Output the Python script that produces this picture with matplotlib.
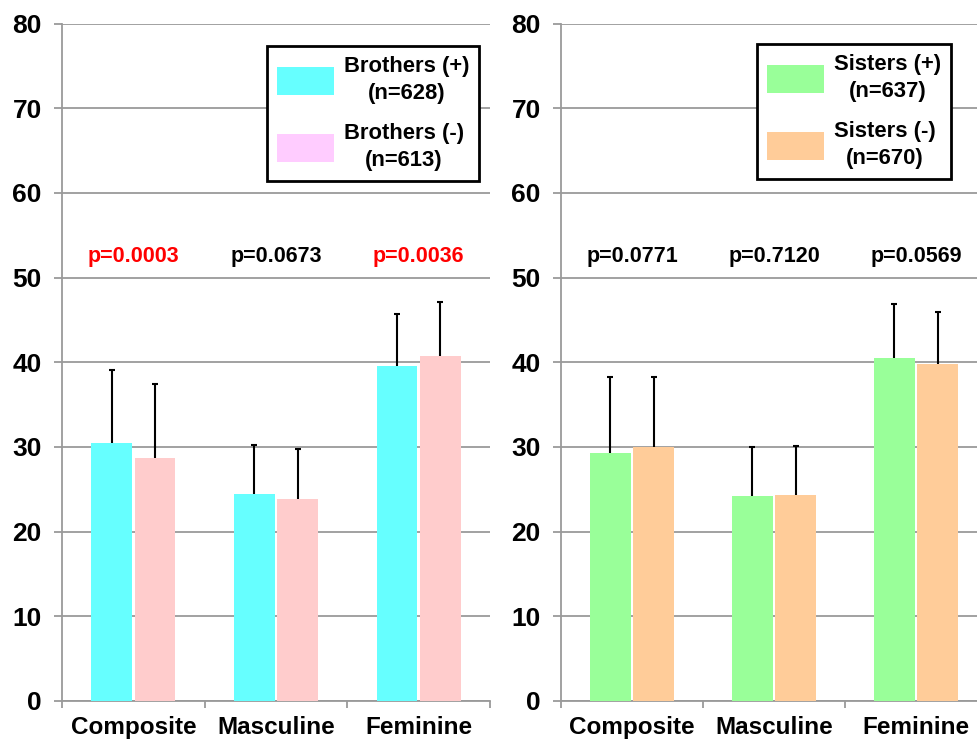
import matplotlib
matplotlib.use("Agg")
import matplotlib.pyplot as plt
from matplotlib.patches import Patch
import numpy as np

plt.rcParams['font.family'] = ['Liberation Sans', 'DejaVu Sans']
plt.rcParams['font.weight'] = 'bold'

categories = ["Composite", "Masculine", "Feminine"]

brothers_pos = [30.5, 24.5, 39.6]
brothers_pos_err = [8.6, 5.7, 6.1]
brothers_neg = [28.65, 23.9, 40.7]
brothers_neg_err = [8.8, 5.8, 6.4]
brothers_p = ["p=0.0003", "p=0.0673", "p=0.0036"]
brothers_p_sig = [True, False, True]
brothers_labels = ["Brothers (+)\n(n=628)", "Brothers (-)\n(n=613)"]

sisters_pos = [29.25, 24.2, 40.5]
sisters_pos_err = [9.0, 5.8, 6.4]
sisters_neg = [30.0, 24.3, 39.8]
sisters_neg_err = [8.3, 5.8, 6.1]
sisters_p = ["p=0.0771", "p=0.7120", "p=0.0569"]
sisters_p_sig = [False, False, False]
sisters_labels = ["Sisters (+)\n(n=637)", "Sisters (-)\n(n=670)"]

yticks = [0, 10, 20, 30, 40, 50, 60, 70, 80]

fig = plt.figure(figsize=(9.78, 7.47), dpi=100)
W, H = 978.0, 747.0
ax1 = fig.add_axes([62 / W, 46 / H, 428 / W, 677.5 / H])
ax2 = fig.add_axes([561 / W, 46 / H, 426 / W, 677.5 / H])

GRID = '#9a9a9a'


def panel(ax, pos, pos_err, neg, neg_err, c_pos, c_neg, leg_c_pos, leg_c_neg,
          labels, ptexts, psig, py, leg_anchor):
    x = np.arange(len(categories)) + 0.5
    w = 0.285
    off = 0.152
    ekw = dict(ecolor='black', elinewidth=1.5, capsize=2.3, capthick=1.5)
    for xs, vals, errs, col in ((x - off, pos, pos_err, c_pos), (x + off, neg, neg_err, c_neg)):
        bc = ax.bar(xs, vals, w, color=col, zorder=3,
                    yerr=[np.zeros(len(vals)), errs], error_kw=ekw)
        caps = bc.errorbar.lines[1]
        if caps:
            caps[0].set_visible(False)
    ax.set_xlim(0, 3)
    ax.set_ylim(0, 80)
    ax.set_yticks(yticks)
    ax.set_yticklabels([str(t) for t in yticks], fontsize=19, fontweight='bold')
    ax.set_xticks(x)
    ax.set_xticklabels(categories, fontsize=17.5, fontweight='bold')
    ax.set_xticks([0, 1, 2, 3], minor=True)
    ax.tick_params(axis='x', which='major', length=0, pad=11)
    ax.tick_params(axis='x', which='minor', length=5, width=1.3, color=GRID, direction='out')
    ax.tick_params(axis='y', which='major', length=5.5, width=1.3, color=GRID, pad=9)
    ax.grid(axis='y', color=GRID, linewidth=1.3, zorder=0)
    ax.set_axisbelow(True)
    for s in ['top', 'right']:
        ax.spines[s].set_visible(False)
    for s in ['left', 'bottom']:
        ax.spines[s].set_color(GRID)
        ax.spines[s].set_linewidth(1.3)
    for xi, t, sig in zip(x, ptexts, psig):
        ax.text(xi, py, t, ha='center', va='center', fontsize=15.5,
                fontweight='bold', color='red' if sig else 'black', zorder=4)
    handles = [Patch(facecolor=leg_c_pos, edgecolor='none'),
               Patch(facecolor=leg_c_neg, edgecolor='none')]
    leg = ax.legend(handles, labels, loc='upper left', bbox_to_anchor=leg_anchor,
                    bbox_transform=fig.transFigure,
                    prop=dict(size=15.8, weight='bold'), frameon=True,
                    fancybox=False, edgecolor='black', framealpha=1,
                    handlelength=2.6, handleheight=1.55, labelspacing=0.85,
                    handletextpad=0.45, borderpad=0.45, borderaxespad=0)
    leg.get_frame().set_linewidth(2)
    for t in leg.get_texts():
        t.set_multialignment('center')
        t.set_linespacing(1.4)
    leg.set_zorder(5)


panel(ax1, brothers_pos, brothers_pos_err, brothers_neg, brothers_neg_err,
      '#66FFFF', '#FFCCCC', '#66FFFF', '#FFCCFF', brothers_labels,
      brothers_p, brothers_p_sig, 52.5, (267 / W, 1 - 46 / H))
panel(ax2, sisters_pos, sisters_pos_err, sisters_neg, sisters_neg_err,
      '#99FF99', '#FFCC99', '#99FF99', '#FFCC99', sisters_labels,
      sisters_p, sisters_p_sig, 52.5, (757 / W, 1 - 44 / H))

fig.savefig('out.png', dpi=100)
